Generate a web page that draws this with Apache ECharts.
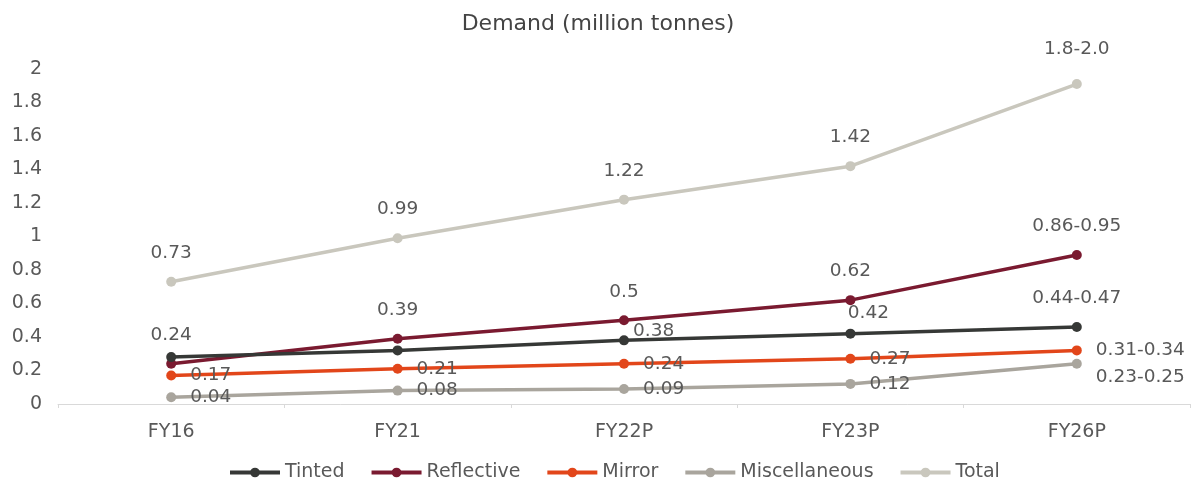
<!DOCTYPE html>
<html>
<head>
<meta charset="utf-8">
<script src="https://cdn.jsdelivr.net/npm/echarts@6/dist/echarts.min.js"></script>
<style>
html,body{margin:0;padding:0;background:#fff;}
#c{width:1196px;height:483px;}
</style>
</head>
<body>
<div id="c"></div>
<script>
const categories = ['FY16', 'FY21', 'FY22P', 'FY23P', 'FY26P'];
const seriesNames = ['Tinted', 'Reflective', 'Mirror', 'Miscellaneous', 'Total'];
const tinted = [0.28, 0.32, 0.38, 0.42, 0.46];
const tintedLabels = ['', '', '0.38', '0.42', '0.44-0.47'];
const reflective = [0.24, 0.39, 0.50, 0.62, 0.89];
const reflectiveLabels = ['0.24', '0.39', '0.5', '0.62', '0.86-0.95'];
const mirror = [0.17, 0.21, 0.24, 0.27, 0.32];
const mirrorLabels = ['0.17', '0.21', '0.24', '0.27', '0.31-0.34'];
const misc = [0.04, 0.08, 0.09, 0.12, 0.24];
const miscLabels = ['0.04', '0.08', '0.09', '0.12', '0.23-0.25'];
const total = [0.73, 0.99, 1.22, 1.42, 1.91];
const totalLabels = ['0.73', '0.99', '1.22', '1.42', '1.8-2.0'];
const yTicks = { min: 0, max: 2, interval: 0.2 };

const FONT = '"DejaVu Sans", Arial, sans-serif';
const labelBase = { show: true, color: '#595959', fontSize: 18.5, fontFamily: FONT };

function build(values, labels, posFn) {
  return values.map((v, i) => ({
    value: v,
    label: Object.assign({}, labelBase, { formatter: labels[i] || '' }, posFn(i))
  }));
}

const colors = ['#363836', '#7a1a30', '#e2461a', '#a9a59d', '#c9c7bd'];

const option = {
  animation: false,
  color: colors,
  title: {
    text: 'Demand (million tonnes)',
    left: 'center',
    top: 8,
    textStyle: { fontFamily: FONT, fontSize: 22, fontWeight: 'normal', color: '#444' }
  },
  legend: {
    top: 458,
    left: 223,
    itemWidth: 50,
    itemHeight: 12,
    itemGap: 25,
    lineStyle: { width: 4 },
    textStyle: { fontFamily: FONT, fontSize: 19, color: '#595959' },
    data: seriesNames
  },
  grid: { left: 58, right: 6, top: 69, bottom: 79, containLabel: false },
  xAxis: {
    type: 'category',
    data: categories,
    boundaryGap: true,
    axisLine: { lineStyle: { color: '#d9d9d9', width: 1 } },
    axisTick: { show: true, length: 4, lineStyle: { color: '#d9d9d9' } },
    axisLabel: { fontFamily: FONT, fontSize: 19, color: '#595959', margin: 19 }
  },
  yAxis: {
    type: 'value',
    min: yTicks.min, max: yTicks.max, interval: yTicks.interval,
    splitLine: { show: false },
    axisLine: { show: false },
    axisTick: { show: false },
    axisLabel: { fontFamily: FONT, fontSize: 19, color: '#595959', margin: 16 }
  },
  series: [
    {
      name: seriesNames[0], type: 'line', symbol: 'circle', symbolSize: 10,
      lineStyle: { width: 3.5 }, z: 4,
      data: build(tinted, tintedLabels, (i) => {
        if (i === 2) return { position: 'right', distance: 4, offset: [0, -9] };
        if (i === 3) return { position: 'top', distance: 6, offset: [18, 0] };
        return { position: 'top', distance: 14 };
      })
    },
    {
      name: seriesNames[1], type: 'line', symbol: 'circle', symbolSize: 10,
      lineStyle: { width: 3.5 }, z: 3,
      data: build(reflective, reflectiveLabels, () => ({ position: 'top', distance: 14 }))
    },
    {
      name: seriesNames[2], type: 'line', symbol: 'circle', symbolSize: 10,
      lineStyle: { width: 3.5 }, z: 2,
      data: build(mirror, mirrorLabels, () => ({ position: 'right', distance: 14 }))
    },
    {
      name: seriesNames[3], type: 'line', symbol: 'circle', symbolSize: 10,
      lineStyle: { width: 3.5 }, z: 1,
      data: build(misc, miscLabels, (i) => (i === 4
        ? { position: 'right', distance: 14, offset: [0, 13] }
        : { position: 'right', distance: 14 }))
    },
    {
      name: seriesNames[4], type: 'line', symbol: 'circle', symbolSize: 10,
      lineStyle: { width: 3.5 }, z: 1,
      data: build(total, totalLabels, (i) => (i === 4
        ? { position: 'top', distance: 20 }
        : { position: 'top', distance: 14 }))
    }
  ]
};

const chart = echarts.init(document.getElementById('c'), null, { renderer: 'canvas' });
chart.setOption(option);
</script>
</body>
</html>
